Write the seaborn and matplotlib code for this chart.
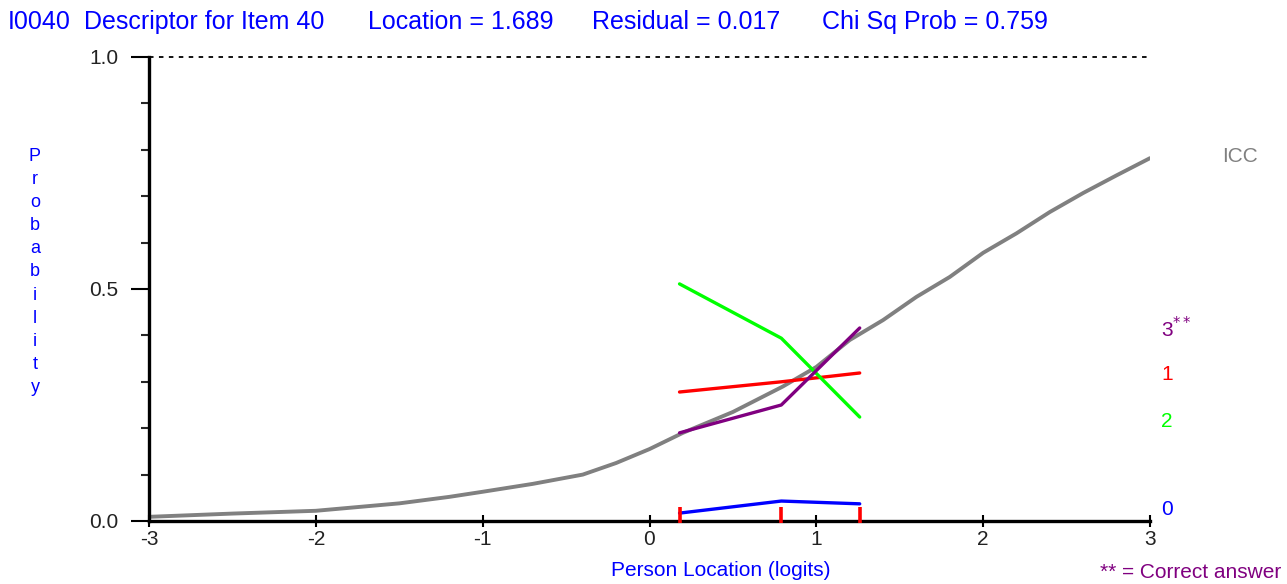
"""
Item characteristic curve (RUMM-style) for item I0040.
"""

import numpy as np
import pandas as pd
import matplotlib
matplotlib.use("Agg")
import matplotlib.pyplot as plt
import seaborn as sns
from matplotlib.ticker import MultipleLocator

# --- data ---
icc_x = [-3.0, -2.5, -2.0, -1.5, -1.2, -1.0, -0.7, -0.4, -0.2, 0.0, 0.2, 0.5,
         0.8, 1.0, 1.2, 1.4, 1.6, 1.8, 2.0, 2.2, 2.4, 2.6, 2.8, 3.0]
icc_y = [0.009, 0.016, 0.022, 0.038, 0.052, 0.063, 0.080, 0.100, 0.125, 0.155,
         0.190, 0.235, 0.290, 0.332, 0.390, 0.433, 0.483, 0.526, 0.578, 0.620,
         0.666, 0.707, 0.745, 0.782]

group_x = [0.18, 0.79, 1.26]
cat0 = [0.017, 0.043, 0.037]
cat1 = [0.278, 0.300, 0.319]
cat2 = [0.511, 0.394, 0.224]
cat3 = [0.190, 0.250, 0.416]

categories = ["0", "1", "2", "3"]
cat_colors = {"0": "#0000FF", "1": "#FF0000", "2": "#00FF00", "3": "#800080"}
label_y = {"0": 0.025, "1": 0.315, "2": 0.215, "3": 0.415}

title_parts = ["I0040", "Descriptor for Item 40", "Location = 1.689",
               "Residual = 0.017", "Chi Sq Prob = 0.759"]
title_px = [8, 84, 368, 592, 822]

sns.set_style("white")
plt.rcParams["font.family"] = ["Liberation Sans", "DejaVu Sans"]

W, H = 1287, 584
fig = plt.figure(figsize=(W / 100, H / 100), dpi=100)
ax = fig.add_axes([149 / W, 1 - 521 / H, (1150 - 149) / W, (521 - 57) / H])

# long-form table for the category curves
rows = []
for name, vals in zip(categories, [cat0, cat1, cat2, cat3]):
    for gx, v in zip(group_x, vals):
        rows.append({"x": gx, "prob": v, "cat": name})
df = pd.DataFrame(rows)

sns.lineplot(x=icc_x, y=icc_y, color="#808080", lw=2.8, ax=ax, zorder=2)
for name in ["1", "2", "3", "0"]:
    sub = df[df["cat"] == name]
    sns.lineplot(data=sub, x="x", y="prob", color=cat_colors[name], lw=2.4,
                 sort=False, ax=ax, zorder=3)

# class interval markers on the x axis
ax.vlines(group_x, -0.004, 0.03, color="#FF0000", lw=2.6, zorder=5, clip_on=False)

# dashed line at probability 1
ax.plot([-3, 3], [1, 1], color="black", ls=(0, (2.5, 3)), lw=1.3, clip_on=False)

ax.set_xlim(-3, 3)
ax.set_ylim(0, 1)
ax.set_xlabel("")
ax.set_ylabel("")
for s in ["top", "right"]:
    ax.spines[s].set_visible(False)
for s in ["left", "bottom"]:
    ax.spines[s].set_linewidth(2.4)
    ax.spines[s].set_color("black")

ax.set_xticks([-3, -2, -1, 0, 1, 2, 3])
ax.set_xticklabels(["-3", "-2", "-1", "0", "1", "2", "3"])
ax.set_yticks([0, 0.5, 1.0])
ax.set_yticklabels(["0.0", "0.5", "1.0"])
ax.yaxis.set_minor_locator(MultipleLocator(0.1))
ax.tick_params(axis="y", which="major", direction="out", length=13, width=1.5,
               labelsize=15, colors="black", pad=9, left=True)
ax.tick_params(axis="y", which="minor", direction="out", length=6, width=1.5, left=True)
ax.tick_params(axis="x", which="major", direction="inout", length=9, width=1.5,
               labelsize=15, colors="black", pad=2, bottom=True)
for lab in ax.get_xticklabels() + ax.get_yticklabels():
    lab.set_color("#222222")

# title pieces
for txt, px in zip(title_parts, title_px):
    fig.text(px / W, 1 - 22 / H, txt, color="#0000FF", fontsize=18, va="center", ha="left")

# vertical axis label, one letter per line
fig.text(35 / W, 1 - 272 / H, "\n".join("Probability"), color="#0000FF",
         fontsize=13, ha="center", va="center", linespacing=1.47)

fig.text(721 / W, 1 - 571 / H, "Person Location (logits)", color="#0000FF",
         fontsize=15, ha="center", va="center")

# right-hand labels
fig.text(1222 / W, 1 - 156 / H, "ICC", color="#808080", fontsize=15, ha="left", va="center")
for name in categories:
    lab = name + ("$^{**}$" if name == "3" else "")
    fig.text(1161 / W, (1 - 521 / H) + label_y[name] * (464 / H), lab,
             color=cat_colors[name], fontsize=15, ha="left", va="center")
fig.text(1100 / W, 1 - 572 / H, "** = Correct answer", color="#800080",
         fontsize=15, ha="left", va="center")

fig.savefig("out.png", dpi=100)
